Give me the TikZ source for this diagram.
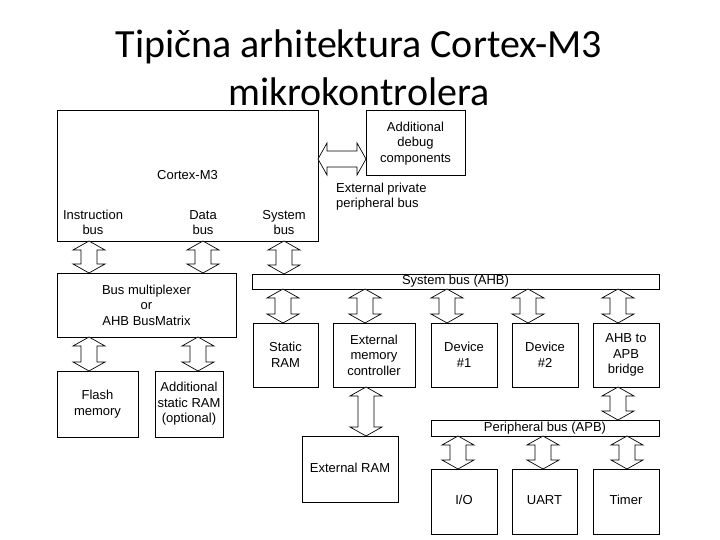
\documentclass[tikz,border=0pt]{standalone}
\usepackage{fontspec}
\setmainfont{Liberation Sans}
\newfontfamily\titlefont{Carlito}
\usetikzlibrary{calc}

\tikzset{
  blk/.style={draw, line width=1pt, fill=white, inner sep=1pt, outer sep=0pt,
    align=center, font=\fontsize{13}{15.5}\selectfont},
  oneline/.style={text height=9.5pt, text depth=3pt},
  busbar/.style={blk, oneline, inner sep=0pt},
  lbl/.style={align=center, inner sep=0pt, font=\fontsize{13}{15.5}\selectfont},
  busarr/.style={draw, line width=0.7pt, fill=white, line join=miter}
}

% vertical double block arrow: x, upper node, lower node
\newcommand\vbus[3]{%
  \draw[busarr] let \p1=(#2.south), \p2=(#3.north) in
    (#1pt,\y1) -- ++(-16pt,-9pt) -- ++(8pt,0) -- (#1pt-8pt,\y2+9pt) -- ++(-8pt,0)
    -- (#1pt,\y2) -- ++(16pt,9pt) -- ++(-8pt,0) -- (#1pt+8pt,\y1-9pt) -- ++(8pt,0) -- cycle;}
% horizontal double block arrow: y, left node, right node
\newcommand\hbus[3]{%
  \draw[busarr] let \p1=(#2.east), \p2=(#3.west) in
    (\x1,-#1pt) -- ++(9pt,16pt) -- ++(0,-8pt) -- (\x2-9pt,-#1pt+8pt) -- ++(0,8pt)
    -- (\x2,-#1pt) -- ++(-9pt,-16pt) -- ++(0,8pt) -- (\x1+9pt,-#1pt-8pt) -- ++(0,-8pt) -- cycle;}

\begin{document}
\begin{tikzpicture}[x=1pt, y=-1pt]
  \useasboundingbox[fill=white] (0,0) rectangle (720,540);

  % Title
  \node[align=center, font=\titlefont\fontsize{40}{48}\selectfont] (title) at (359,68)
    {Tipična arhitektura Cortex-M3\\mikrokontrolera};

  % Processor and debug
  \node[blk, oneline, minimum width=261, minimum height=130] (cpu) at (187.5,176) {Cortex-M3};
  \node[blk, minimum width=99, minimum height=65] (dbg) at (415.5,143.5) {Additional\\debug\\components};
  \node[lbl] (ibus) at (93,222.5) {Instruction\\bus};
  \node[lbl] (dbus) at (203,222.5) {Data\\bus};
  \node[lbl] (sbus) at (284,222.5) {System\\bus};
  \node[lbl, align=left, anchor=west] (ppb) at (336,196.5) {External private\\peripheral bus};

  % Bus matrix and memories
  \node[blk, minimum width=179, minimum height=64] (mux) at (146.5,305) {Bus multiplexer\\or\\AHB BusMatrix};
  \node[blk, minimum width=81, minimum height=66] (flash) at (97.5,404) {Flash\\memory};
  \node[blk, minimum width=68, minimum height=66] (asram) at (189,404) {Additional\\static RAM\\(optional)};

  % System bus (AHB) and its slaves
  \node[busbar, minimum width=407, minimum height=15] (ahb) at (455.5,281.5) {System bus (AHB)};
  \node[blk, minimum width=65, minimum height=64] (sram) at (285.5,355) {Static\\RAM};
  \node[blk, minimum width=82, minimum height=64] (emc) at (374,355) {External\\memory\\controller};
  \node[blk, minimum width=66, minimum height=64] (dev1) at (464,355) {Device\\\#1};
  \node[blk, minimum width=66, minimum height=64] (dev2) at (545,355) {Device\\\#2};
  \node[blk, minimum width=66, minimum height=64] (brg) at (626,355) {AHB to\\APB\\bridge};
  \node[blk, oneline, minimum width=96, minimum height=66] (eram) at (350,469) {External RAM};

  % Peripheral bus (APB)
  \node[busbar, minimum width=228, minimum height=16] (apb) at (545,428) {Peripheral bus (APB)};
  \node[blk, oneline, minimum width=66, minimum height=65] (io) at (464,501.5) {I/O};
  \node[blk, oneline, minimum width=65, minimum height=65] (uart) at (544.5,501.5) {UART};
  \node[blk, oneline, minimum width=66, minimum height=65] (tmr) at (626,501.5) {Timer};

  % Bus arrows
  \hbus{159}{cpu}{dbg}
  \vbus{89}{cpu}{mux}
  \vbus{203}{cpu}{mux}
  \vbus{284}{cpu}{ahb}
  \vbus{89}{mux}{flash}
  \vbus{198}{mux}{asram}
  \vbus{283}{ahb}{sram}
  \vbus{365}{ahb}{emc}
  \vbus{447}{ahb}{dev1}
  \vbus{528}{ahb}{dev2}
  \vbus{618}{ahb}{brg}
  \vbus{366}{emc}{eram}
  \vbus{618}{brg}{apb}
  \vbus{458}{apb}{io}
  \vbus{543}{apb}{uart}
  \vbus{627}{apb}{tmr}
\end{tikzpicture}
\end{document}
